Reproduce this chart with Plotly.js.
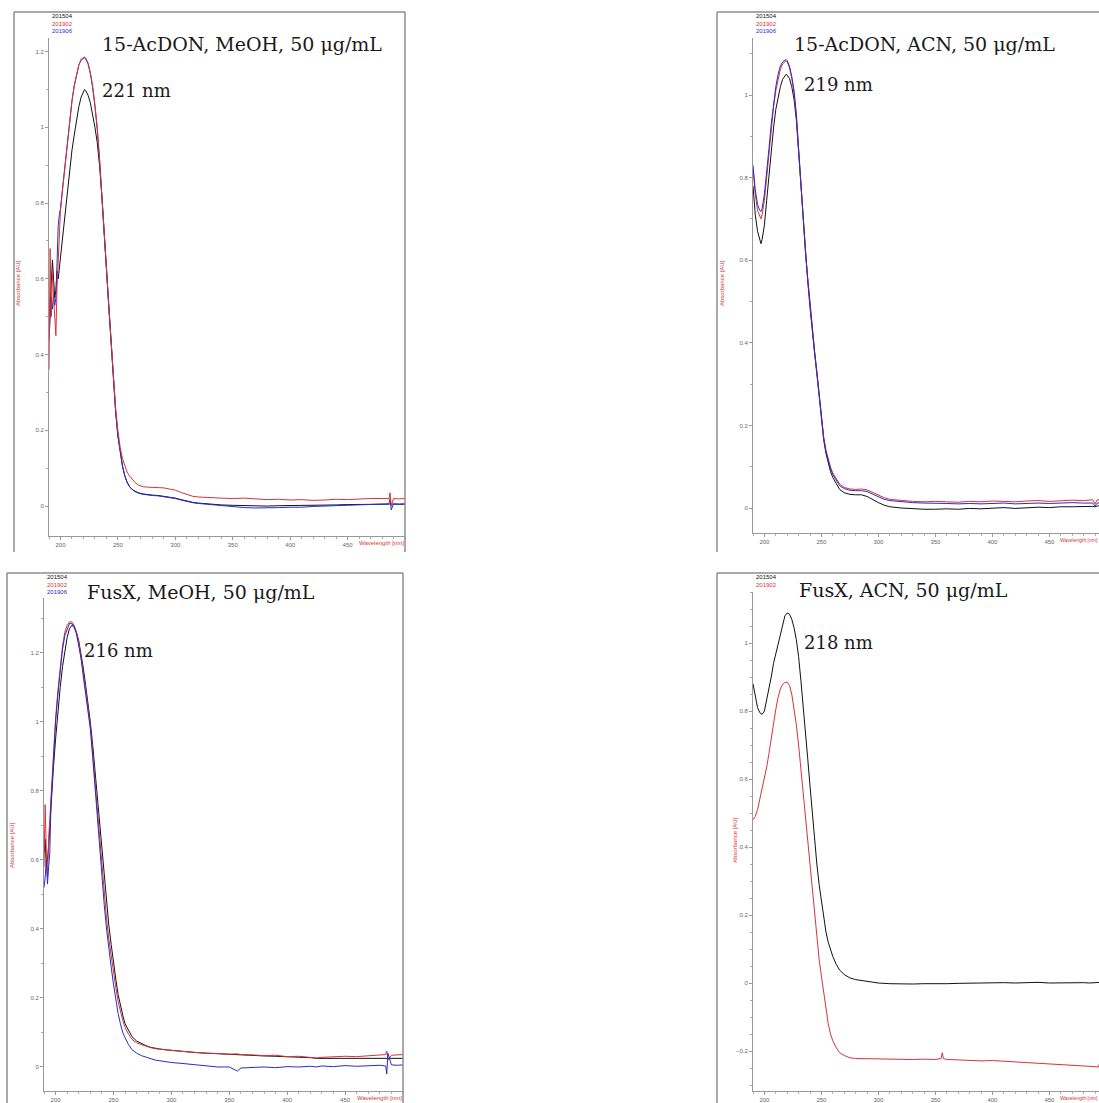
<!DOCTYPE html>
<html><head><meta charset="utf-8">
<script src="https://cdn.plot.ly/plotly-3.0.1.min.js"></script>
<style>html,body{margin:0;padding:0;background:#fff;}#chart{width:1099px;height:1103px;}</style>
</head><body><div id="chart"></div>
<script>
// ---------- DATA ----------
const seriesNames = ["201504", "201902", "201906"];
const panelTitles = ["15-AcDON, MeOH, 50 μg/mL", "15-AcDON, ACN, 50 μg/mL", "FusX, MeOH, 50 μg/mL", "FusX, ACN, 50 μg/mL"];
const peakLabels = ["221 nm", "219 nm", "216 nm", "218 nm"];
const yTitle = "Absorbance [AU]";
const xTitle = "Wavelength [nm]";
const xTickVals = [200, 250, 300, 350, 400, 450];

// Panel A: 15-AcDON, MeOH
const wlA = [190,191,192,193,194,195,196,197,198,199,200,202,204,206,208,210,212,214,216,218,220,221,222,224,226,228,230,232,234,236,238,240,242,244,246,248,250,252,254,256,258,260,262,265,268,272,276,280,285,290,295,300,305,310,315,320,330,340,350,360,370,380,390,400,410,420,430,440,450,460,470,480,484,486,487,488,490,495,500];
const blackA = [0.47,0.52,0.58,0.65,0.60,0.55,0.57,0.62,0.60,0.63, 0.65,0.71,0.77,0.83,0.89,0.94,0.98,1.02,1.055,1.08,1.095, 1.10, 1.097,1.085,1.065,1.035,1.0,0.96,0.90,0.82,0.725,0.625,0.525,0.425,0.33,0.25,0.185,0.14,0.105,0.08,0.063,0.052, 0.045,0.039,0.035,0.032,0.03,0.029,0.028,0.026,0.023,0.021, 0.017,0.013,0.01,0.008, 0.005,0.003,0.002,0.001,0.001,0.0,0.001,0.001,0.002,0.002,0.003,0.003,0.004,0.004,0.005,0.005, 0.005,0.005,0.006,0.005,0.005,0.005,0.005];
const redA = [0.36,0.68,0.50,0.62,0.55,0.48,0.45,0.58,0.64,0.71, 0.78,0.84,0.90,0.96,1.02,1.07,1.11,1.14,1.165,1.18,1.185, 1.186, 1.183,1.17,1.145,1.11,1.06,1.0,0.92,0.83,0.73,0.63,0.53,0.43,0.34,0.26,0.20,0.155,0.125,0.105,0.09,0.08, 0.072,0.062,0.055,0.051,0.05,0.05,0.049,0.048,0.045,0.042, 0.036,0.03,0.026,0.024, 0.022,0.021,0.02,0.021,0.019,0.017,0.018,0.016,0.017,0.015,0.016,0.018,0.017,0.019,0.02,0.02, 0.019,0.02,0.035,0.0,0.02,0.019,0.02];
const blueA = [0.44,0.50,0.55,0.52,0.56,0.53,0.55,0.64,0.74,0.77, 0.785,0.845,0.905,0.965,1.02,1.07,1.11,1.14,1.165,1.178,1.183, 1.184, 1.18,1.168,1.142,1.105,1.055,0.995,0.915,0.825,0.725,0.625,0.525,0.425,0.33,0.25,0.185,0.14,0.105,0.08,0.063,0.052, 0.045,0.038,0.034,0.031,0.029,0.028,0.027,0.025,0.022,0.02, 0.016,0.012,0.009,0.007, 0.004,0.001,-0.002,-0.004,-0.005,-0.005,-0.004,-0.003,-0.003,-0.001,0.0,0.002,0.003,0.004,0.005,0.005, 0.005,0.006,0.02,-0.01,0.006,0.005,0.006];

// Panel B: 15-AcDON, ACN
const wlB = [190,192,194,196,197,198,200,202,204,206,208,210,212,214,216,218,219,220,222,224,226,228,230,232,234,236,238,240,242,244,246,248,250,252,254,256,258,260,263,266,270,275,280,285,290,295,300,305,310,320,330,340,350,360,370,380,390,400,410,420,430,440,450,460,470,480,488,490,492,495,500];
const blackB = [0.78,0.71,0.67,0.645,0.64,0.65, 0.685,0.745,0.81,0.87,0.92,0.965,0.995,1.02,1.038,1.047, 1.05, 1.048,1.04,1.02,0.99,0.94,0.86,0.775,0.695,0.615,0.55,0.485,0.425,0.375,0.325,0.27,0.215,0.165,0.132,0.107,0.088,0.074, 0.058,0.045,0.037,0.033,0.032,0.032,0.028,0.02,0.013,0.007,0.003, 0.0,-0.002,-0.003,-0.003,-0.002,-0.003,-0.001,-0.002,0.0,0.001,-0.001,0.001,0.002,0.001,0.003,0.003,0.004, 0.004,0.003,0.005,0.005,0.005];
const redB = [0.82,0.76,0.72,0.705,0.70,0.71, 0.745,0.80,0.86,0.92,0.97,1.01,1.04,1.062,1.075,1.082, 1.083, 1.08,1.066,1.04,1.005,0.95,0.865,0.78,0.70,0.62,0.555,0.49,0.43,0.38,0.33,0.275,0.22,0.172,0.14,0.117,0.099,0.085, 0.07,0.058,0.05,0.046,0.045,0.046,0.044,0.038,0.031,0.025,0.021, 0.018,0.016,0.015,0.016,0.015,0.014,0.016,0.015,0.017,0.016,0.015,0.017,0.018,0.016,0.018,0.019,0.018, 0.02,0.01,0.02,0.019,0.02];
const blueB = [0.83,0.77,0.735,0.72,0.718,0.725, 0.76,0.81,0.87,0.93,0.98,1.02,1.05,1.07,1.08,1.085, 1.086, 1.083,1.07,1.045,1.01,0.955,0.87,0.78,0.70,0.62,0.555,0.49,0.43,0.38,0.33,0.275,0.22,0.17,0.137,0.113,0.095,0.081, 0.066,0.054,0.047,0.043,0.042,0.042,0.04,0.034,0.027,0.021,0.018, 0.015,0.013,0.012,0.012,0.011,0.01,0.011,0.01,0.011,0.012,0.01,0.011,0.012,0.011,0.012,0.013,0.012, 0.012,0.005,0.012,0.013,0.012];

// Panel C: FusX, MeOH
const wlC = [190,191,192,193,194,195,196,198,200,202,204,206,208,210,212,214,216,218,220,222,224,226,228,230,232,234,236,238,240,242,244,246,248,250,252,254,256,258,260,263,266,270,274,278,282,286,290,295,300,310,320,330,340,350,357,360,370,380,390,400,410,420,425,430,440,450,460,470,480,485,486,487,490,495,500];
const blackC = [0.62,0.66,0.58,0.60,0.64,0.70,0.76, 0.86,0.95,1.03,1.10,1.16,1.21,1.245,1.27,1.28,1.275,1.26,1.235,1.20,1.155,1.105,1.055,1.0,0.935,0.86,0.78,0.70,0.62,0.545,0.475,0.41,0.355,0.30,0.255,0.21,0.175,0.15,0.125, 0.105,0.088,0.075,0.068,0.062,0.057,0.054,0.052,0.05,0.048, 0.045,0.042,0.04,0.038,0.036, 0.035, 0.034,0.033,0.032,0.031,0.03,0.029,0.027, 0.025, 0.025,0.025,0.025,0.025,0.025,0.025, 0.025,0.025,0.025,0.025,0.025,0.025];
const redC = [0.58,0.76,0.62,0.55,0.66,0.72,0.80, 0.92,1.01,1.09,1.16,1.22,1.26,1.28,1.29,1.29,1.28,1.26,1.23,1.19,1.14,1.09,1.04,0.99,0.91,0.83,0.74,0.66,0.58,0.50,0.43,0.37,0.32,0.27,0.23,0.19,0.16,0.135,0.115, 0.095,0.08,0.07,0.065,0.06,0.056,0.053,0.051,0.05,0.048, 0.045,0.042,0.04,0.039,0.037, 0.038, 0.036,0.035,0.033,0.034,0.03,0.031,0.028, 0.026, 0.028,0.03,0.031,0.03,0.033,0.034, 0.036,0.046,0.02,0.034,0.035,0.036];
const blueC = [0.52,0.55,0.60,0.53,0.58,0.62,0.76, 0.90,1.0,1.08,1.15,1.21,1.25,1.27,1.285,1.285,1.275,1.255,1.225,1.185,1.13,1.08,1.03,0.98,0.90,0.81,0.72,0.63,0.55,0.47,0.40,0.34,0.29,0.24,0.19,0.155,0.125,0.10,0.085, 0.065,0.05,0.04,0.033,0.028,0.024,0.02,0.018,0.015,0.013, 0.01,0.006,0.003,0.0,0.0, -0.012, -0.003,-0.002,0.0,-0.002,0.001,0.0,0.002, 0.0, 0.003,0.001,0.004,0.002,0.004,0.005, 0.003,-0.02,0.04,0.006,0.005,0.006];

// Panel D: FusX, ACN
const wlD = [190,192,194,196,198,200,202,204,206,208,210,212,214,216,218,220,222,224,226,228,230,232,234,236,238,240,242,244,246,248,250,252,254,256,258,260,263,266,270,275,280,290,300,310,320,330,340,350,355,356,357,360,370,380,390,400,410,420,430,440,450,460,470,480,485,490,493,495,500];
const blackD = [0.88,0.84,0.81,0.795,0.79,0.80,0.83,0.865,0.90,0.94,0.97,1.0,1.03,1.06,1.08,1.088,1.085,1.07,1.045,1.01,0.96,0.89,0.82,0.74,0.66,0.58,0.50,0.42,0.35,0.29,0.24,0.19,0.15,0.12,0.095,0.078, 0.055,0.038,0.025,0.015,0.01, 0.004,0.0,-0.002,-0.003,-0.003,-0.002,-0.003, -0.002,-0.002,-0.002, -0.002,-0.001,0.0,-0.001,0.0,0.001,0.0,0.001,0.002,0.0,0.001,0.002,0.001, 0.0,0.002,0.003,0.002,0.003];
const redD = [0.48,0.49,0.51,0.54,0.57,0.60,0.635,0.675,0.72,0.765,0.805,0.84,0.865,0.878,0.884,0.885,0.875,0.85,0.81,0.76,0.70,0.63,0.56,0.48,0.41,0.34,0.27,0.20,0.13,0.07,0.02,-0.03,-0.08,-0.12,-0.15,-0.17, -0.19,-0.205,-0.213,-0.22,-0.222, -0.223,-0.224,-0.223,-0.224,-0.225,-0.224,-0.225, -0.222,-0.205,-0.222, -0.225,-0.226,-0.228,-0.229,-0.228,-0.231,-0.232,-0.234,-0.236,-0.237,-0.238,-0.241,-0.243, -0.244,-0.246,-0.247,-0.225,-0.245];

// ---------- LAYOUT HELPERS ----------
const W = 1099, H = 1103;
const fx = x => x / W;
const fy = y => 1 - y / H;
const colBlack = "#111111", colRed = "#d8323a", colBlue = "#2b2bc8";
const lw = 1;

function tr(x, y, color, ax) {
  return {x: x, y: y, type: "scatter", mode: "lines", line: {color: color, width: lw},
    xaxis: "x" + ax, yaxis: "y" + ax, hoverinfo: "skip", showlegend: false};
}
const data = [
  tr(wlA, blackA, colBlack, ""), tr(wlA, blueA, colBlue, ""), tr(wlA, redA, colRed, ""),
  tr(wlB, blackB, colBlack, "2"), tr(wlB, redB, colRed, "2"), tr(wlB, blueB, colBlue, "2"),
  tr(wlC, blackC, colBlack, "3"), tr(wlC, redC, colRed, "3"), tr(wlC, blueC, colBlue, "3"),
  tr(wlD, blackD, colBlack, "4"), tr(wlD, redD, colRed, "4")
];

// pixel boxes: [x0, x1, yTop, yBottom], axis ranges
const panels = [
  {box: [49, 405, 38, 536], xr: [190, 500], yr: [-0.079, 1.236], ymin: 0.1, frame: [14, 405, 12], nLeg: 3, xt: [405, "right", 7]},
  {box: [753, 1099, 38, 533], xr: [190, 493.5], yr: [-0.0605, 1.138], ymin: 0.1, frame: [717, 1099, 12], nLeg: 3, xt: [1099, "right", 5.5]},
  {box: [44, 403, 598, 1091], xr: [190, 500], yr: [-0.0696, 1.359], ymin: 0.1, frame: [7, 403, 573], nLeg: 3, xt: [403, "right", 7]},
  {box: [753, 1099, 592, 1091], xr: [190, 493.5], yr: [-0.3176, 1.15], ymin: 0.05, frame: [717, 1099, 573], nLeg: 2, xt: [1099, "right", 5.5]}
];

const tickFont = {family: "Liberation Sans, Arial, sans-serif", size: 6, color: "#666"};
const layout = {
  width: W, height: H, margin: {l: 0, r: 0, t: 0, b: 0},
  paper_bgcolor: "#fff", plot_bgcolor: "#fff", showlegend: false,
  annotations: [], shapes: []
};

const titlePos = [[100, 44], [792, 44], [85, 592], [797, 590]];
const peakPos = [[100, 90], [802, 84], [82, 650], [802, 642]];
const yTitlePos = [[18, 283], [722, 283], [12, 845], [735, 840]];
const legendColors = [colBlack, colRed, colBlue];

panels.forEach((p, i) => {
  const s = i === 0 ? "" : String(i + 1);
  layout["xaxis" + s] = {
    domain: [fx(p.box[0]), Math.min(1, fx(p.box[1]))], range: p.xr, anchor: "y" + s,
    showgrid: false, zeroline: false, showline: true, linecolor: "#999", linewidth: 1,
    ticks: "outside", ticklen: 3, tickcolor: "#999", tickmode: "array", tickvals: xTickVals,
    tickfont: tickFont, fixedrange: true,
    minor: {dtick: 10, tick0: 190, ticks: "outside", ticklen: 2, tickcolor: "#aaa", showgrid: false}
  };
  layout["yaxis" + s] = {
    domain: [fy(p.box[3]), fy(p.box[2])], range: p.yr, anchor: "x" + s,
    showgrid: false, zeroline: false, showline: true, linecolor: "#999", linewidth: 1,
    ticks: "outside", ticklen: 3, tickcolor: "#999", dtick: 0.2, tick0: 0,
    tickfont: tickFont, fixedrange: true,
    minor: {dtick: p.ymin, ticks: "outside", ticklen: 2, tickcolor: "#aaa", showgrid: false}
  };
  // frame lines (left, top, right)
  const fr = p.frame;
  const frameLine = {type: "line", xref: "paper", yref: "paper", line: {color: "#8c8c8c", width: 1.5}};
  layout.shapes.push(Object.assign({}, frameLine, {x0: fx(fr[0]), x1: fx(fr[0]), y0: fy(fr[2]), y1: fy(fr[2] + 540)}));
  layout.shapes.push(Object.assign({}, frameLine, {x0: fx(fr[0]), x1: fx(fr[1]), y0: fy(fr[2]), y1: fy(fr[2])}));
  if (fr[1] < W) layout.shapes.push(Object.assign({}, frameLine, {x0: fx(fr[1]), x1: fx(fr[1]), y0: fy(fr[2]), y1: fy(fr[2] + 540)}));

  // titles
  layout.annotations.push({xref: "paper", yref: "paper", x: fx(titlePos[i][0]), y: fy(titlePos[i][1]),
    xanchor: "left", yanchor: "middle", showarrow: false, text: panelTitles[i],
    font: {family: "DejaVu Serif, Liberation Serif, serif", size: 19, color: "#1a1a1a"}});
  layout.annotations.push({xref: "paper", yref: "paper", x: fx(peakPos[i][0]), y: fy(peakPos[i][1]),
    xanchor: "left", yanchor: "middle", showarrow: false, text: peakLabels[i],
    font: {family: "DejaVu Serif, Liberation Serif, serif", size: 18, color: "#1a1a1a"}});
  // y title
  layout.annotations.push({xref: "paper", yref: "paper", x: fx(yTitlePos[i][0]), y: fy(yTitlePos[i][1]),
    xanchor: "center", yanchor: "middle", showarrow: false, text: yTitle, textangle: -90,
    font: {family: "Liberation Sans, Arial, sans-serif", size: 6, color: "#d8323a"}});
  // x title at right end of axis
  layout.annotations.push({xref: "paper", yref: "paper", x: fx(p.xt[0]), y: fy(p.box[3] + 3),
    xanchor: p.xt[1], yanchor: "top", showarrow: false, text: xTitle, borderpad: 0,
    font: {family: "Liberation Sans, Arial, sans-serif", size: p.xt[2] === 7 ? 6 : 5, color: "#d8323a"}});
  // legend labels
  for (let k = 0; k < p.nLeg; k++) {
    layout.annotations.push({xref: "paper", yref: "paper", x: fx(p.box[0] + 1), y: fy(fr[2] + 4 + k * 7.5),
      xanchor: "left", yanchor: "middle", showarrow: false, text: seriesNames[k],
      font: {family: "Liberation Sans, Arial, sans-serif", size: 6, color: legendColors[k]}});
  }
});

Plotly.newPlot("chart", data, layout, {staticPlot: true, displayModeBar: false});
</script>
</body></html>
